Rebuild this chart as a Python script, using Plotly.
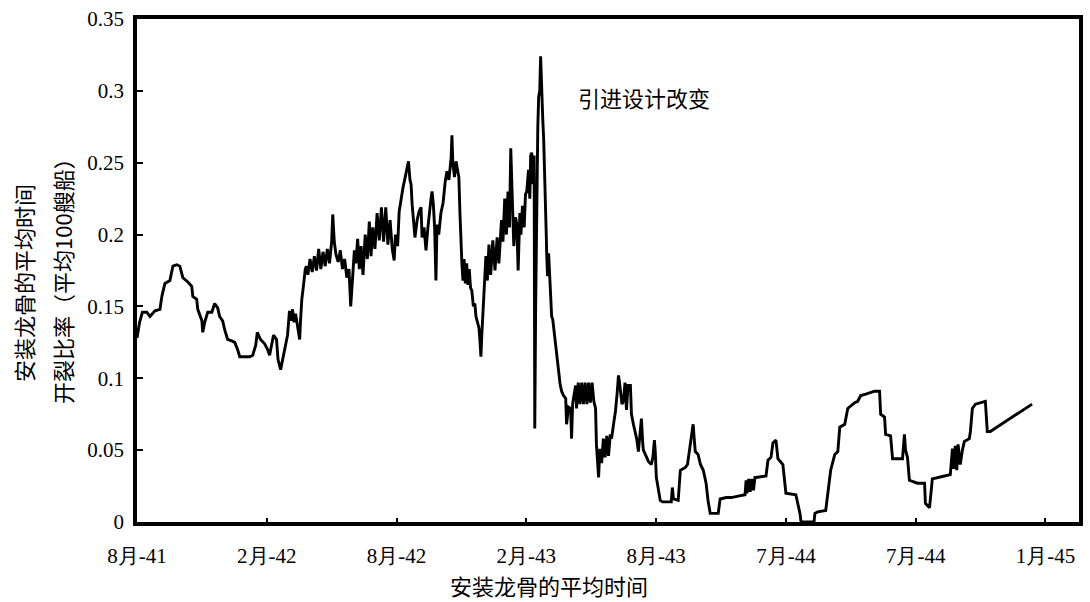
import plotly.graph_objects as go

# Months elapsed since August 1941 (average keel-laying date) and crack ratio per 100 ships
months = [
    0.0, 0.12, 0.25, 0.45, 0.6, 0.83, 1.06, 1.15, 1.29, 1.52, 1.66, 1.84, 1.98, 2.12, 2.35, 2.53, 2.58,
    2.76, 2.81, 3.0, 3.04, 3.13, 3.27, 3.46, 3.59, 3.73, 3.82, 3.96, 4.05, 4.19, 4.38, 4.52, 4.65,
    4.75, 4.98, 5.21, 5.35, 5.49, 5.56, 5.62, 5.71, 5.9, 6.04, 6.13, 6.22, 6.31, 6.45, 6.52, 6.64,
    6.73, 6.82, 6.96, 7.05, 7.12, 7.19, 7.26, 7.33, 7.4, 7.47, 7.52, 7.56, 7.62, 7.7, 7.78,
    7.83, 7.9, 8.0, 8.1, 8.2, 8.3, 8.4, 8.5, 8.6, 8.7, 8.8, 8.9, 9.0, 9.05, 9.12, 9.2, 9.3, 9.4,
    9.5, 9.6, 9.7, 9.8, 9.88, 9.95, 10.05, 10.12, 10.2, 10.28, 10.36, 10.45, 10.55, 10.65, 10.74,
    10.82, 10.9, 11.0, 11.1, 11.2, 11.3, 11.4, 11.5, 11.6, 11.7, 11.8, 11.89, 11.95, 12.05, 12.12,
    12.2, 12.3, 12.4, 12.49, 12.55, 12.62, 12.67, 12.72, 12.78, 12.85, 12.95, 13.04, 13.13, 13.18,
    13.27, 13.36, 13.45, 13.5, 13.6, 13.64, 13.7, 13.76, 13.82, 13.87, 13.95, 14.05, 14.15, 14.25,
    14.33, 14.42, 14.52, 14.56, 14.6, 14.68, 14.75, 14.82, 14.88, 14.93, 14.98, 15.02, 15.07, 15.12,
    15.18, 15.24, 15.3, 15.36, 15.42, 15.48, 15.55, 15.62, 15.67, 15.75, 15.81, 15.86, 15.9, 15.94,
    16.0, 16.04, 16.1, 16.13, 16.2, 16.27, 16.35, 16.45, 16.55, 16.65, 16.73, 16.85, 16.92, 17.0,
    17.08, 17.15, 17.22, 17.28, 17.33, 17.42, 17.5, 17.56, 17.62, 17.7, 17.75, 17.82, 17.9, 17.96,
    18.02, 18.1, 18.16, 18.2, 18.25, 18.3, 18.36, 18.39, 18.43, 18.48, 18.53, 18.57, 18.62, 18.66,
    18.71, 18.76, 18.8, 18.85, 18.89, 18.92, 18.94, 18.98, 19.03, 19.08, 19.12, 19.17, 19.22, 19.3,
    19.35, 19.4, 19.45, 19.49, 19.56, 19.63, 19.72, 19.82, 19.86, 19.95, 20.05, 20.09, 20.14, 20.2,
    20.28, 20.32, 20.4, 20.48, 20.56, 20.64, 20.72, 20.8, 20.88, 20.96, 21.04, 21.12, 21.2, 21.24,
    21.34, 21.4, 21.48, 21.56, 21.64, 21.72, 21.8, 21.88, 21.94, 22.05, 22.12, 22.2, 22.26, 22.3,
    22.35, 22.42, 22.49, 22.56, 22.63, 22.7, 22.81, 22.86, 22.95, 23.04, 23.1, 23.18, 23.25, 23.32,
    23.38, 23.41, 23.5, 23.55, 23.65, 23.78, 23.85, 23.92, 23.96, 24.01, 24.1, 24.19, 24.3, 24.5,
    24.7, 24.75, 24.8, 25.02, 25.12, 25.35, 25.45, 25.58, 25.65, 25.71, 25.76, 25.81, 25.94, 26.05,
    26.18, 26.31, 26.4, 26.5, 26.87, 26.96, 27.24, 27.47, 27.79, 28.11, 28.16, 28.2, 28.28, 28.35,
    28.42, 28.5, 28.57, 28.62, 29.08, 29.17, 29.31, 29.4, 29.54, 29.63, 29.86, 30.0, 30.46, 30.65,
    30.7, 31.3, 31.34, 31.47, 31.84, 31.94, 32.07, 32.26, 32.4, 32.49, 32.72, 32.86, 33.18, 33.32,
    33.46, 33.69, 34.1, 34.33, 34.38, 34.56, 34.61, 34.84, 34.93, 35.39, 35.48, 35.53, 35.62, 35.71,
    36.08, 36.41, 36.45, 36.64, 36.68, 36.77, 37.33, 37.6, 37.7, 37.76, 37.83, 37.9, 37.96, 38.06,
    38.16, 38.25, 38.48, 38.53, 38.62, 38.76, 39.22, 39.31, 39.45, 41.38,
]

crack_ratio = [
    0.128, 0.139, 0.146, 0.146, 0.143, 0.147, 0.148, 0.157, 0.166, 0.168, 0.178, 0.179, 0.178, 0.170,
    0.167, 0.164, 0.157, 0.155, 0.148, 0.140, 0.132, 0.139, 0.146, 0.146, 0.152, 0.149, 0.143, 0.140,
    0.134, 0.127, 0.126, 0.125, 0.120, 0.115, 0.115, 0.115, 0.116, 0.123, 0.132, 0.130, 0.127, 0.124,
    0.120, 0.116, 0.123, 0.130, 0.127, 0.113, 0.106, 0.113, 0.120, 0.130, 0.147, 0.140, 0.148, 0.139,
    0.145, 0.137, 0.130, 0.127, 0.140, 0.155, 0.165, 0.176,
    0.178, 0.172, 0.183, 0.174, 0.185, 0.175, 0.190, 0.176, 0.188, 0.178, 0.190, 0.180, 0.195, 0.214,
    0.195, 0.186, 0.181, 0.189, 0.176, 0.183, 0.170, 0.176, 0.150, 0.166, 0.189, 0.180, 0.197, 0.176,
    0.192, 0.172, 0.200, 0.183, 0.209, 0.185, 0.205, 0.190, 0.215, 0.196, 0.219, 0.195, 0.219, 0.193,
    0.210, 0.190, 0.182, 0.200, 0.192, 0.216, 0.225, 0.233, 0.240, 0.248, 0.251, 0.238, 0.235, 0.221,
    0.209, 0.198, 0.210, 0.216, 0.219, 0.198, 0.205, 0.189, 0.205, 0.214, 0.226, 0.230, 0.221, 0.205,
    0.168, 0.207, 0.200, 0.215, 0.222, 0.237, 0.244, 0.238, 0.253, 0.269, 0.250, 0.240, 0.251, 0.245,
    0.240, 0.215, 0.189, 0.180, 0.168, 0.183, 0.166, 0.180, 0.165, 0.176, 0.163, 0.161, 0.150, 0.152,
    0.143, 0.139, 0.135, 0.125, 0.115, 0.130, 0.150, 0.166, 0.175, 0.185, 0.168, 0.193, 0.172, 0.196,
    0.175, 0.198, 0.180, 0.210, 0.195, 0.225, 0.200, 0.230, 0.205, 0.260, 0.235, 0.192, 0.212, 0.207,
    0.175, 0.215, 0.200, 0.220, 0.205, 0.228, 0.230, 0.245, 0.225, 0.255, 0.257, 0.235, 0.255, 0.065,
    0.150, 0.240, 0.275, 0.296, 0.300, 0.324, 0.295, 0.280, 0.267, 0.240, 0.235, 0.200, 0.187, 0.171,
    0.187, 0.168, 0.160, 0.143, 0.141, 0.130, 0.123, 0.118, 0.110, 0.102, 0.096, 0.091, 0.088, 0.086,
    0.068, 0.080, 0.079, 0.058, 0.082, 0.088, 0.095, 0.079, 0.097, 0.082, 0.097, 0.082, 0.097, 0.082,
    0.097, 0.083, 0.097, 0.084, 0.079, 0.054, 0.031, 0.051, 0.041, 0.058, 0.045, 0.060, 0.046, 0.061,
    0.058, 0.070, 0.077, 0.090, 0.102, 0.098, 0.090, 0.082, 0.084, 0.097, 0.078, 0.095, 0.095, 0.075,
    0.068, 0.063, 0.058, 0.049, 0.060, 0.072, 0.055, 0.050, 0.047, 0.045, 0.042, 0.040, 0.045, 0.057,
    0.049, 0.031, 0.022, 0.015, 0.014, 0.014, 0.014, 0.024, 0.016, 0.015, 0.036, 0.038, 0.040, 0.054,
    0.060, 0.068, 0.058, 0.049, 0.047, 0.040, 0.036, 0.027, 0.015, 0.006, 0.006, 0.016, 0.017, 0.017,
    0.018, 0.019, 0.029, 0.020, 0.030, 0.021, 0.030, 0.022, 0.031, 0.031, 0.032, 0.043, 0.045, 0.055,
    0.057, 0.044, 0.040, 0.020, 0.019, 0.006, 0.0, 0.0, 0.006, 0.007, 0.008, 0.020, 0.036, 0.047,
    0.049, 0.066, 0.068, 0.079, 0.083, 0.084, 0.088, 0.089, 0.091, 0.091, 0.075, 0.073, 0.061, 0.060,
    0.044, 0.044, 0.061, 0.050, 0.045, 0.029, 0.027, 0.027, 0.013, 0.010, 0.015, 0.030, 0.032, 0.033,
    0.051, 0.037, 0.053, 0.036, 0.054, 0.040, 0.050, 0.056, 0.058, 0.063, 0.079, 0.082, 0.084, 0.063,
    0.063, 0.082,
]

x_tick_vals = [0, 6, 12, 18, 24, 30, 36, 42]
x_tick_text = ["8月-41", "2月-42", "8月-42", "2月-43", "8月-43", "7月-44", "7月-44", "1月-45"]
y_tick_vals = [0, 0.05, 0.1, 0.15, 0.2, 0.25, 0.3, 0.35]
y_tick_text = ["0", "0.05", "0.1", "0.15", "0.2", "0.25", "0.3", "0.35"]

SERIF = "Times New Roman, Liberation Serif, DejaVu Serif, serif"
CJK = "Noto Sans CJK SC"

fig = go.Figure()
fig.add_trace(go.Scatter(
    x=months, y=crack_ratio, mode="lines",
    line=dict(color="black", width=2.9),
    hoverinfo="skip", showlegend=False,
))

fig.update_layout(
    width=1090, height=602,
    margin=dict(l=137, r=7, t=12, b=80),
    paper_bgcolor="white", plot_bgcolor="white",
    font=dict(family=SERIF, color="black", size=21),
    xaxis=dict(
        range=[0, 43.55], tickvals=x_tick_vals, ticktext=x_tick_text,
        showgrid=False, zeroline=False, showline=True, mirror=True,
        linecolor="black", linewidth=4, ticks="inside", ticklen=4, tickwidth=2,
        tickcolor="black", ticklabelstandoff=12,
        tickfont=dict(family=SERIF, size=21, color="black"),
    ),
    yaxis=dict(
        range=[0, 0.35], tickvals=y_tick_vals, ticktext=y_tick_text,
        showgrid=False, zeroline=False, showline=True, mirror=True,
        linecolor="black", linewidth=3.5, ticks="inside", ticklen=6, tickwidth=2,
        tickcolor="black", ticklabelstandoff=5, ticklabeloverflow="allow",
        tickfont=dict(family=SERIF, size=21, color="black"),
    ),
    annotations=[
        dict(text="引进设计改变", x=23.43, y=0.296, xref="x", yref="y",
             showarrow=False, font=dict(family=CJK, size=22, color="black")),
        dict(text="安装龙骨的平均时间", x=19.06, y=-0.125, xref="x", yref="paper",
             showarrow=False, yanchor="middle",
             font=dict(family=CJK, size=22, color="black")),
        dict(text="安装龙骨的平均时间", x=-0.1216, y=0.476, xref="paper", yref="paper",
             showarrow=False, textangle=-90, xanchor="center", yanchor="middle",
             font=dict(family=CJK, size=22, color="black")),
        dict(text="开裂比率（平均100艘船）", x=-0.0803, y=0.49, xref="paper", yref="paper",
             showarrow=False, textangle=-90, xanchor="center", yanchor="middle",
             font=dict(family=CJK, size=22, color="black")),
    ],
)

fig.write_html("out.html")
